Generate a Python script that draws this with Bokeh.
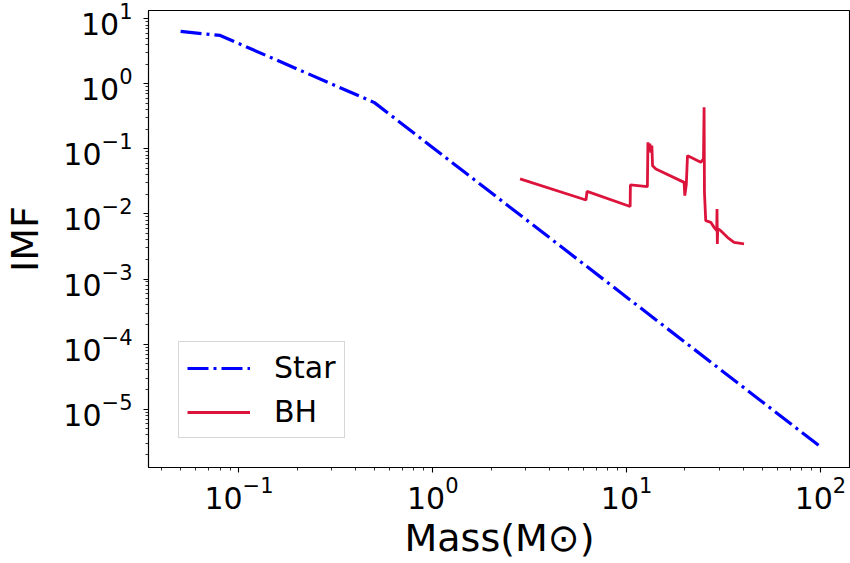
from bokeh.plotting import figure
from bokeh.models import FixedTicker, Legend, LegendItem, Range1d
from bokeh.embed import file_html
from bokeh.resources import INLINE

# ---- data ----
star_mass = [0.05, 0.08, 0.5, 100.0]
star_imf = [6.4, 5.55, 0.515, 2.64e-6]

bh_mass = [2.82, 6.17, 6.25, 10.43, 10.46, 12.80, 12.88, 13.03, 13.18, 13.34,
           13.50, 13.61, 14.16, 19.80, 19.96, 20.32, 20.61, 21.43, 24.13, 24.92,
           25.10, 25.21, 25.60, 27.18, 28.26, 29.17, 29.27, 29.38, 29.52, 30.59,
           33.12, 35.82, 40.33]
bh_imf = [0.0346, 0.0164, 0.0223, 0.0130, 0.0279, 0.0263, 0.1263, 0.0941, 0.1206, 0.0877,
          0.1124, 0.0553, 0.0493, 0.0306, 0.0191, 0.0282, 0.0788, 0.0743, 0.0622, 0.0702,
          0.4365, 0.0215, 0.00788, 0.00743, 0.00622, 0.00553, 0.01194, 0.00346, 0.00594, 0.00553,
          0.00437, 0.00366, 0.00346]

series_labels = ["Star", "BH"]
x_major = [0.1, 1.0, 10.0, 100.0]
y_major = [1e-5, 1e-4, 1e-3, 1e-2, 1e-1, 1.0, 10.0]
x_label = "Mass(M\u2299)"
y_label = "IMF"

x_minor = [k * 10.0 ** n for n in range(-2, 3) for k in range(2, 10)]
y_minor = [k * 10.0 ** n for n in range(-6, 2) for k in range(2, 10)]

FONT = "DejaVu Sans"

p = figure(width=850, height=563, x_axis_type="log", y_axis_type="log",
           x_range=Range1d(0.03415, 142.9), y_range=Range1d(1.265e-6, 13.43),
           output_backend="svg", toolbar_location=None,
           min_border_left=147, min_border_right=0, min_border_top=10, min_border_bottom=96)

p.background_fill_color = "white"
p.border_fill_color = "white"
p.outline_line_color = "black"
p.outline_line_width = 1.1
p.xgrid.visible = False
p.ygrid.visible = False

r_star = p.line(star_mass, star_imf, line_color="#0000ff", line_width=3.2, line_dash="21 5 3 5")
r_bh = p.line(bh_mass, bh_imf, line_color="#dc143c", line_width=2.8)

for ax, ticks, minor in ((p.xaxis[0], x_major, x_minor), (p.yaxis[0], y_major, y_minor)):
    ax.ticker = FixedTicker(ticks=ticks, minor_ticks=minor)
    ax.axis_line_color = "black"
    ax.axis_line_width = 1.1
    ax.major_tick_line_color = "black"
    ax.major_tick_line_width = 1.1
    ax.minor_tick_line_color = "black"
    ax.minor_tick_line_width = 0.8
    ax.major_tick_in = 0
    ax.major_tick_out = 5
    ax.minor_tick_in = 0
    ax.minor_tick_out = 3
    ax.major_label_text_font = FONT
    ax.major_label_text_font_size = "30px"
    ax.major_label_text_color = "black"
    ax.axis_label_text_font = FONT
    ax.axis_label_text_font_size = "38px"
    ax.axis_label_text_font_style = "normal"
    ax.axis_label_text_color = "black"

p.xaxis.major_label_standoff = 3
p.yaxis.major_label_standoff = 11

p.xaxis.axis_label = x_label
p.xaxis.axis_label_standoff = 4
p.yaxis.axis_label = y_label
p.yaxis.axis_label_standoff = 13

legend = Legend(items=[LegendItem(label=series_labels[0], renderers=[r_star]),
                       LegendItem(label=series_labels[1], renderers=[r_bh])],
                location=(30, 29), orientation="vertical",
                label_text_font=FONT, label_text_font_size="30px", label_text_color="black",
                glyph_width=63, glyph_height=26, label_standoff=24,
                padding=8, spacing=9, margin=0,
                border_line_color="#cccccc", border_line_alpha=0.8, border_line_width=1.1,
                background_fill_color="white", background_fill_alpha=0.8)
p.add_layout(legend)

open("out.html", "w").write(file_html(p, INLINE))
